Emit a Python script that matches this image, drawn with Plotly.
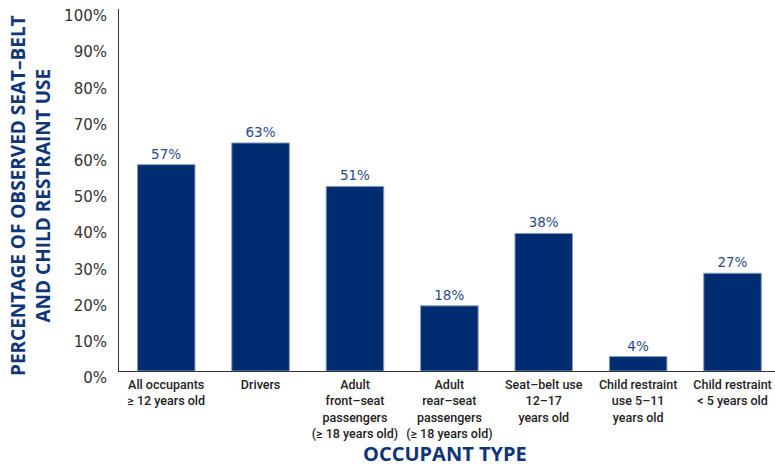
import plotly.graph_objects as go

# Occupant categories and observed restraint-use rates (%)
categories = [
    "All occupants<br>≥ 12 years old",
    "Drivers",
    "Adult<br>front–seat<br>passengers<br>(≥ 18 years old)",
    "Adult<br>rear–seat<br>passengers<br>(≥ 18 years old)",
    "Seat–belt use<br>12–17<br>years old",
    "Child restraint<br>use 5–11<br>years old",
    "Child restraint<br>< 5 years old",
]
usage_pct = [57, 63, 51, 18, 38, 4, 27]
y_ticks = [0, 10, 20, 30, 40, 50, 60, 70, 80, 90, 100]
y_tick_labels = [f"{v}%" for v in y_ticks]

NAVY = "#002d72"
TITLE_BLUE = "#0e3577"

fig = go.Figure(
    go.Bar(
        x=list(range(len(categories))),
        y=usage_pct,
        width=0.61,
        marker=dict(color=NAVY, line=dict(color="#8b9bbd", width=1)),
        text=[f"{v}%" for v in usage_pct],
        textposition="outside",
        textfont=dict(family="DejaVu Sans", size=13.5, color="#2b4a8b"),
        cliponaxis=False,
        hoverinfo="skip",
    )
)

fig.update_layout(
    width=775,
    height=465,
    margin=dict(l=119, r=0, t=9, b=94),
    paper_bgcolor="white",
    plot_bgcolor="white",
    showlegend=False,
    xaxis=dict(
        range=[-0.5, 6.45],
        tickmode="array",
        tickvals=list(range(len(categories))),
        ticktext=categories,
        tickfont=dict(family="Roboto", size=12.5, color="#222222", weight=500),
        showline=True,
        linecolor="#333333",
        linewidth=1,
        showgrid=False,
        zeroline=False,
        ticks="",
        ticklabelstandoff=2,
    ),
    yaxis=dict(
        range=[0, 100],
        tickmode="array",
        tickvals=y_ticks,
        ticktext=y_tick_labels,
        tickfont=dict(family="DejaVu Sans", size=15, color="#333333"),
        showline=True,
        linecolor="#333333",
        linewidth=1,
        showgrid=False,
        zeroline=False,
        ticks="",
        ticklabelshift=7,
        ticklabelstandoff=8,
    ),
    annotations=[
        dict(
            text="PERCENTAGE OF OBSERVED SEAT–BELT<br>AND CHILD RESTRAINT USE",
            x=30, y=196, xref="paper", yref="paper",
            xanchor="center", yanchor="middle",
            textangle=-90,
            showarrow=False,
            font=dict(family="Open Sans", size=19, color=TITLE_BLUE, weight=700),
            align="center",
        ),
        dict(
            text="OCCUPANT TYPE",
            x=445, y=454, xref="paper", yref="paper",
            xanchor="center", yanchor="middle",
            showarrow=False,
            font=dict(family="Open Sans", size=20, color=TITLE_BLUE, weight=700),
        ),
    ],
)

# Convert the pixel anchors of the two titles into paper coordinates
plot_w = 775 - 119 - 0
plot_h = 465 - 9 - 94
for ann in fig.layout.annotations:
    ann.x = (ann.x - 119) / plot_w
    ann.y = (465 - 94 - ann.y) / plot_h

fig.write_html("out.html")
